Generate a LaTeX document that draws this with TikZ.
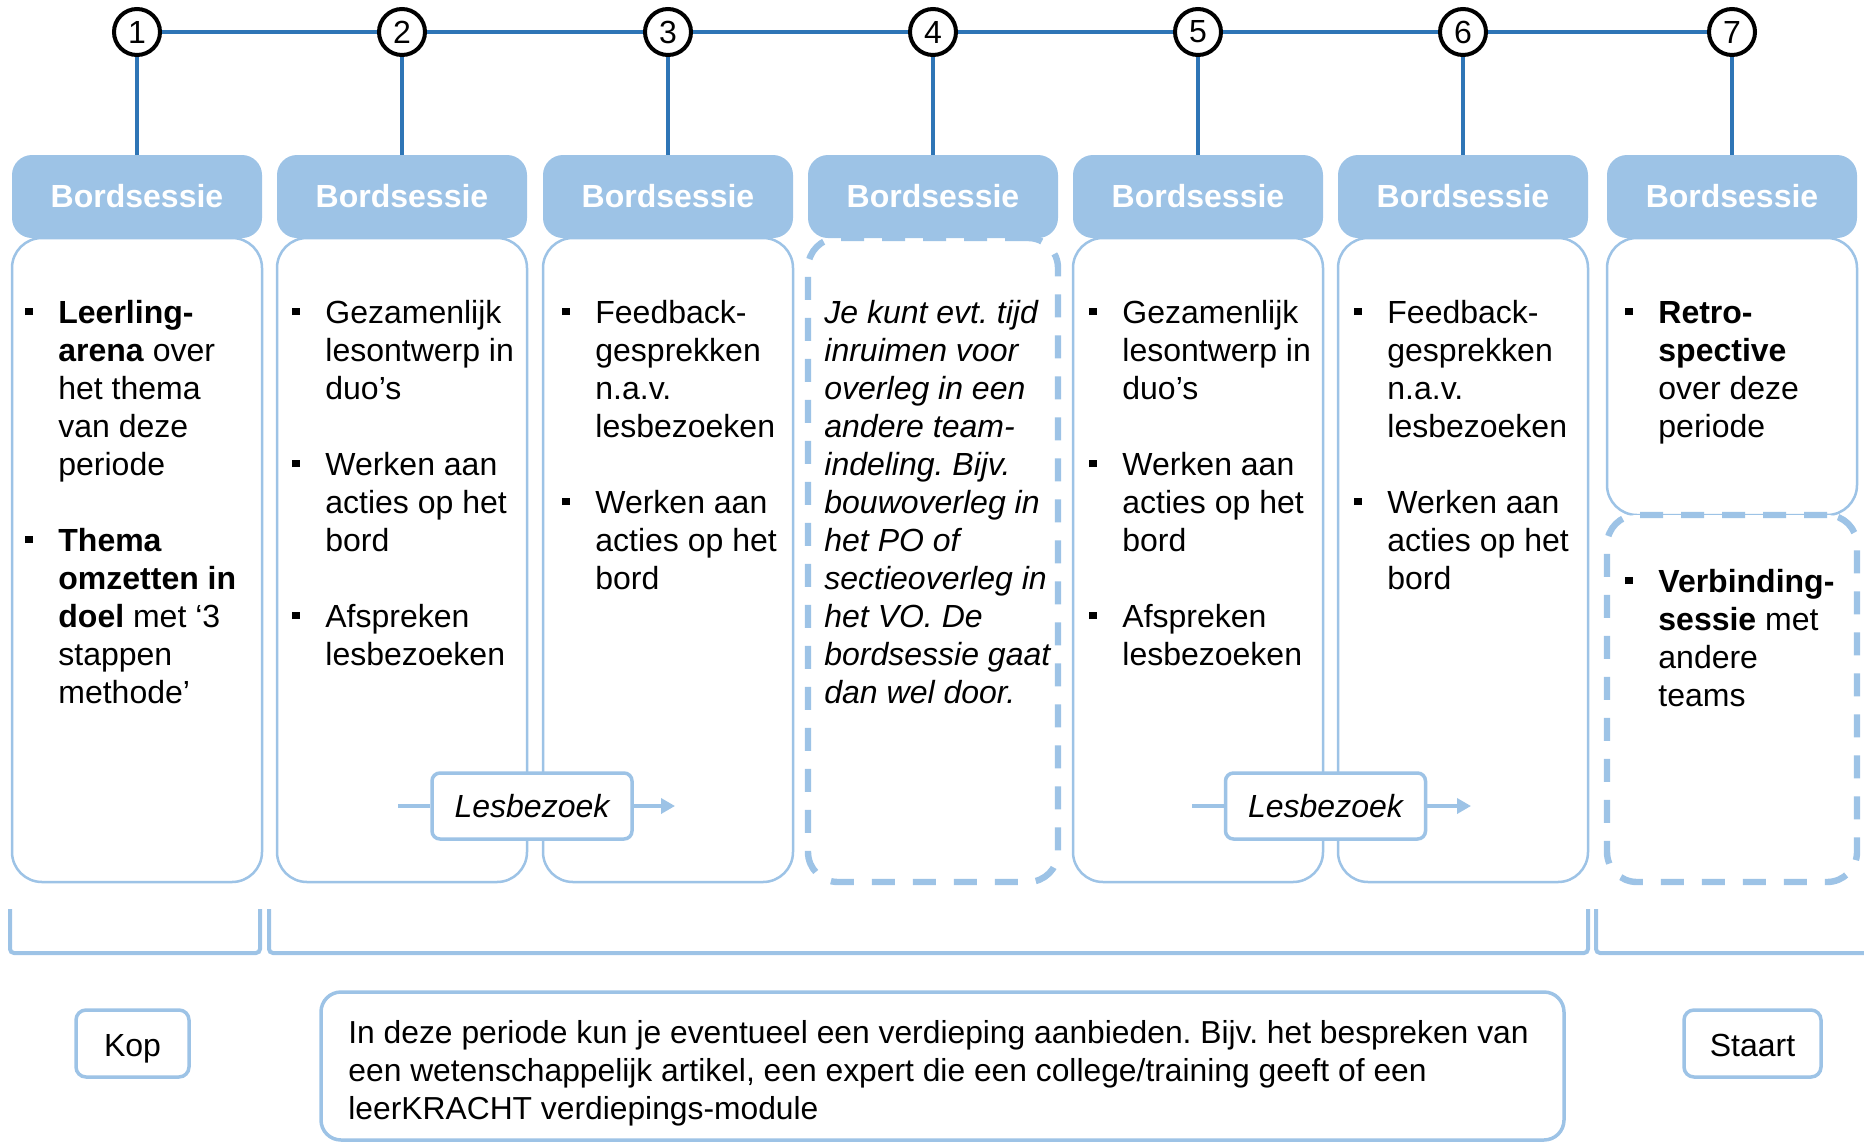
\documentclass[tikz,border=0pt]{standalone}
\usepackage{fontspec}
\setmainfont{Liberation Sans}
\usetikzlibrary{arrows.meta,positioning}

\definecolor{lichtblauw}{HTML}{9DC3E6}
\definecolor{donkerblauw}{HTML}{2E75B6}

% opsommingsteken
\newcommand{\blt}{\makebox[16.5pt][l]{\rule[4pt]{3.75pt}{3.75pt}}}

\begin{document}
\frenchspacing
\begin{tikzpicture}[x=0.5pt, y=-0.5pt,
	nummer/.style={circle, draw=black, line width=2pt, fill=white, minimum size=23pt, inner sep=0pt, font=\fontsize{16}{16}\selectfont},
	bord/.style={fill=lichtblauw, rounded corners=10pt, minimum width=125pt, minimum height=41.5pt, inner sep=0pt, text=white, font=\bfseries\fontsize{16}{16}\selectfont},
	blok/.style={draw=lichtblauw, line width=1.25pt, fill=white, rounded corners=15pt, minimum width=125pt, inner sep=0pt},
	streep/.style={blok, line width=3.2pt, dash pattern=on 11.5pt off 9pt},
	tekst/.style={anchor=base west, inner sep=0pt, font=\fontsize{16}{19}\selectfont},
	bezoek/.style={draw=lichtblauw, line width=1.75pt, fill=white, rounded corners=4pt, minimum width=100pt, minimum height=33pt, inner sep=0pt, font=\itshape\fontsize{16}{16}\selectfont},
	eindblok/.style={draw=lichtblauw, line width=1.75pt, fill=white, rounded corners=5pt, minimum height=33.5pt, inner sep=0pt, text height=13pt, text depth=0.5pt, font=\fontsize{16}{16}\selectfont},
	lijn/.style={lichtblauw, line width=2pt},
	verbind/.style={donkerblauw, line width=2pt}]
	\useasboundingbox (0,0) rectangle (1864,1141);

	% kolommen
	\foreach \i/\x in {1/137, 2/402, 3/668, 5/1198, 6/1463}
		\node[blok, minimum height=322pt] (b\i) at (\x,560) {};
	\node[streep, minimum height=322pt] (b4) at (933,560) {};
	\node[blok, minimum height=138.5pt] (b7) at (1732,376.5) {};
	\node[streep, minimum height=183.5pt] (b7s) at (1732,698.5) {};

	\foreach \i/\x in {1/137, 2/402, 3/668, 4/933, 5/1198, 6/1463, 7/1732}
		\node[bord] (h\i) at (\x,196.5) {Bordsessie};

	% tijdlijn
	\foreach \i/\x in {1/137, 2/402, 3/668, 4/933, 5/1198, 6/1463, 7/1732}
		\node[nummer] (c\i) at (\x,32) {\i};
	\foreach \i/\j in {1/2, 2/3, 3/4, 4/5, 5/6, 6/7}
		\draw[verbind] (c\i) -- (c\j);
	\foreach \i in {1,...,7}
		\draw[verbind] (c\i) -- (h\i);

	% teksten
	\node[tekst] (t1) at (25,323) {\begin{tabular}[t]{@{}l@{}l@{}}
		\blt & \textbf{Leerling-}\\ & \textbf{arena} over\\ & het thema\\ & van deze\\ & periode\\ & \\
		\blt & \textbf{Thema}\\ & \textbf{omzetten in}\\ & \textbf{doel} met ‘3\\ & stappen\\ & methode’
	\end{tabular}};
	\node[tekst] (t2) at (292,323) {\begin{tabular}[t]{@{}l@{}l@{}}
		\blt & Gezamenlijk\\ & lesontwerp in\\ & duo’s\\ & \\
		\blt & Werken aan\\ & acties op het\\ & bord\\ & \\
		\blt & Afspreken\\ & lesbezoeken
	\end{tabular}};
	\node[tekst] (t3) at (562,323) {\begin{tabular}[t]{@{}l@{}l@{}}
		\blt & Feedback-\\ & gesprekken\\ & n.a.v.\\ & lesbezoeken\\ & \\
		\blt & Werken aan\\ & acties op het\\ & bord
	\end{tabular}};
	\node[tekst, font=\itshape\fontsize{16}{19}\selectfont] (t4) at (824,323) {\begin{tabular}[t]{@{}l@{}}
		Je kunt evt. tijd\\ inruimen voor\\ overleg in een\\ andere team-\\ indeling. Bijv.\\ bouwoverleg in\\
		het PO of\\ sectieoverleg in\\ het VO. De\\ bordsessie gaat\\ dan wel door.
	\end{tabular}};
	\node[tekst] (t5) at (1089,323) {\begin{tabular}[t]{@{}l@{}l@{}}
		\blt & Gezamenlijk\\ & lesontwerp in\\ & duo’s\\ & \\
		\blt & Werken aan\\ & acties op het\\ & bord\\ & \\
		\blt & Afspreken\\ & lesbezoeken
	\end{tabular}};
	\node[tekst] (t6) at (1354,323) {\begin{tabular}[t]{@{}l@{}l@{}}
		\blt & Feedback-\\ & gesprekken\\ & n.a.v.\\ & lesbezoeken\\ & \\
		\blt & Werken aan\\ & acties op het\\ & bord
	\end{tabular}};
	\node[tekst] (t7) at (1625,323) {\begin{tabular}[t]{@{}l@{}l@{}}
		\blt & \textbf{Retro-}\\ & \textbf{spective}\\ & over deze\\ & periode
	\end{tabular}};
	\node[tekst] (t7s) at (1625,592) {\begin{tabular}[t]{@{}l@{}l@{}}
		\blt & \textbf{Verbinding-}\\ & \textbf{sessie} met\\ & andere\\ & teams
	\end{tabular}};

	% lesbezoeken
	\node[bezoek] (l1) at (532,806) {Lesbezoek};
	\coordinate (l1in) at (398,806);
	\coordinate (l1uit) at (675,806);
	\draw[lijn] (l1in) -- (l1);
	\draw[lijn, -{Triangle[length=7pt,width=7.5pt]}] (l1) -- (l1uit);
	\node[bezoek] (l2) at (1325.5,806) {Lesbezoek};
	\coordinate (l2in) at (1192,806);
	\coordinate (l2uit) at (1471,806);
	\draw[lijn] (l2in) -- (l2);
	\draw[lijn, -{Triangle[length=7pt,width=7.5pt]}] (l2) -- (l2uit);

	% accolades
	\draw[lijn, rounded corners=2pt] (10,909) |- (260,953) -- (260,909);
	\draw[lijn, rounded corners=2pt] (269,909) |- (1588,953) -- (1588,909);
	\draw[lijn, rounded corners=2pt] (1596,909) |- (1880,953);

	% onderkant
	\node[eindblok, minimum width=56.5pt] (kop) at (132.5,1043.5) {Kop};
	\node[eindblok, minimum width=68.5pt] (staart) at (1752.5,1043.5) {Staart};
	\node[eindblok, rounded corners=10pt, minimum width=621.5pt, minimum height=74pt, text height=0pt, text depth=0pt] (verdieping) at (942.5,1066) {};
	\node[tekst, font=\fontsize{15.9}{19}\selectfont] (vtekst) at (348,1043) {\begin{tabular}[t]{@{}l@{}}
		In deze periode kun je eventueel een verdieping aanbieden. Bijv. het bespreken van\\
		een wetenschappelijk artikel, een expert die een college/training geeft of een\\
		leerKRACHT verdiepings-module
	\end{tabular}};
\end{tikzpicture}
\end{document}
